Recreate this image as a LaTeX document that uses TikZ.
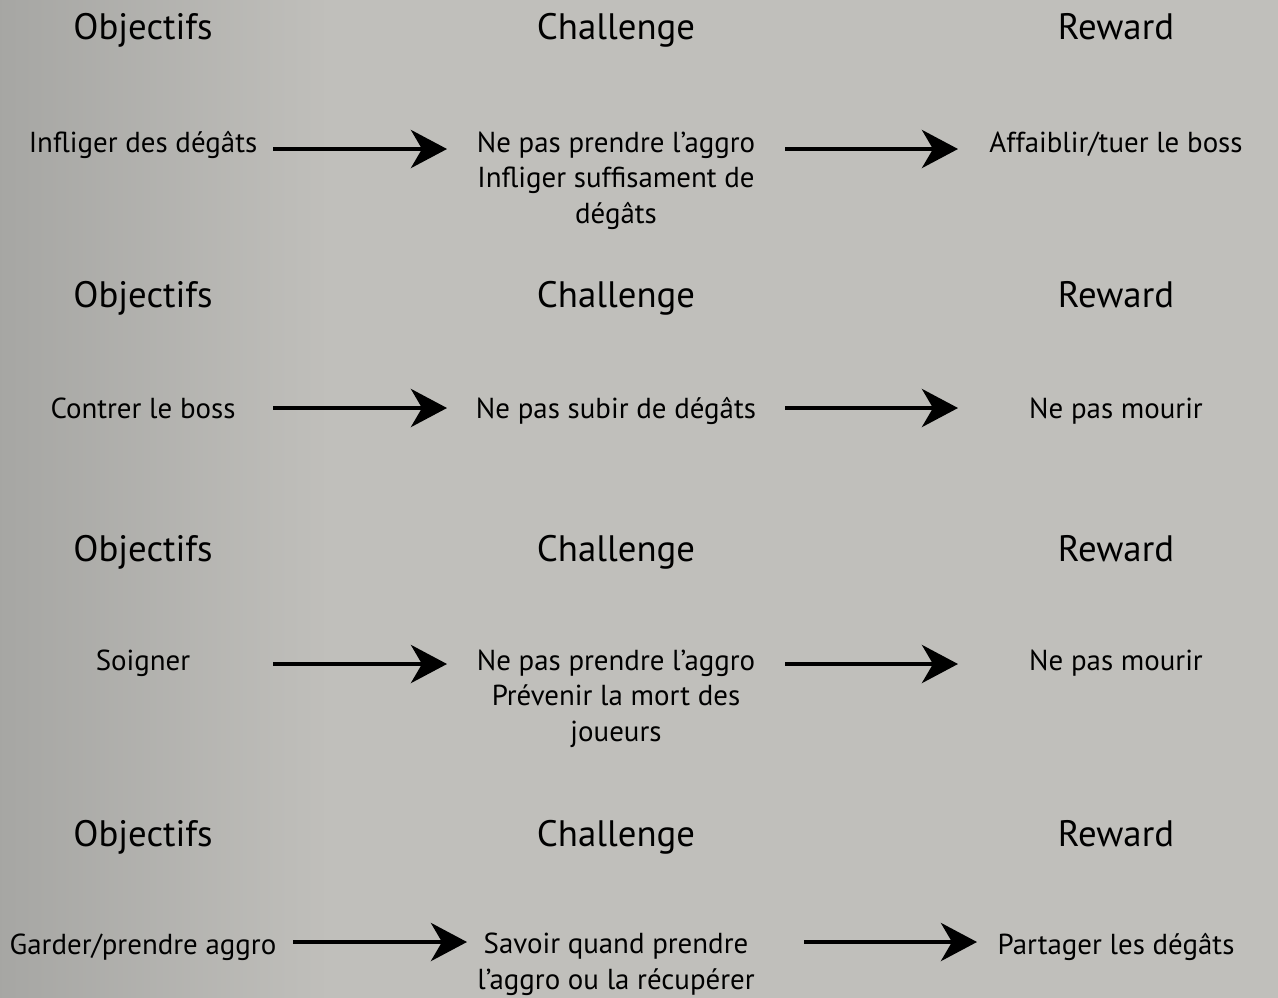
\documentclass[tikz,border=0pt]{standalone}
\usepackage{fontspec}
\setmainfont{PT Sans}
\usetikzlibrary{arrows.meta}
\definecolor{bgR}{RGB}{192,191,187}
\definecolor{bgL}{RGB}{166,166,163}
\begin{document}
\begin{tikzpicture}[x=1pt,y=-1pt,
  hdr/.style={anchor=base,font=\fontsize{36.8}{40}\selectfont,text=black,inner sep=0pt},
  item/.style={anchor=base,font=\fontsize{28.9}{35.5}\selectfont,align=center,text=black,inner sep=0pt},
  arr/.style={line width=4.5pt,-{Stealth[length=36pt,width=38pt,inset=11pt]}}]
\useasboundingbox (0,0) rectangle (1278,997);
\fill[bgR] (-5,-5) rectangle (1283,1002);
\shade[left color=bgL,right color=bgR] (-5,-5) rectangle (330,1002);
% Row 1
\node[hdr] (h1a) at (143,39) {Objectifs};
\node[hdr] (h1b) at (616,39) {Challenge};
\node[hdr] (h1c) at (1116,39) {Reward};
\node[item] (o1) at (143,152) {Infliger des dégâts};
\node[item] (c1) at (616,223) {Ne pas prendre l’aggro\\Infliger suffisament de\\dégâts};
\node[item] (r1) at (1116,152) {Affaiblir/tuer le boss};
\coordinate (a1s) at (273,149); \coordinate (a1e) at (447,149);
\coordinate (b1s) at (785,149); \coordinate (b1e) at (958,149);
\draw[arr] (a1s) -- (a1e);
\draw[arr] (b1s) -- (b1e);
% Row 2
\node[hdr] (h2a) at (143,307) {Objectifs};
\node[hdr] (h2b) at (616,307) {Challenge};
\node[hdr] (h2c) at (1116,307) {Reward};
\node[item] (o2) at (143,418) {Contrer le boss};
\node[item] (c2) at (616,418) {Ne pas subir de dégâts};
\node[item] (r2) at (1116,418) {Ne pas mourir};
\coordinate (a2s) at (273,408); \coordinate (a2e) at (447,408);
\coordinate (b2s) at (785,408); \coordinate (b2e) at (958,408);
\draw[arr] (a2s) -- (a2e);
\draw[arr] (b2s) -- (b2e);
% Row 3
\node[hdr] (h3a) at (143,561) {Objectifs};
\node[hdr] (h3b) at (616,561) {Challenge};
\node[hdr] (h3c) at (1116,561) {Reward};
\node[item] (o3) at (143,670) {Soigner};
\node[item] (c3) at (616,741) {Ne pas prendre l’aggro\\Prévenir la mort des\\joueurs};
\node[item] (r3) at (1116,670) {Ne pas mourir};
\coordinate (a3s) at (273,664); \coordinate (a3e) at (447,664);
\coordinate (b3s) at (785,664); \coordinate (b3e) at (958,664);
\draw[arr] (a3s) -- (a3e);
\draw[arr] (b3s) -- (b3e);
% Row 4
\node[hdr] (h4a) at (143,846) {Objectifs};
\node[hdr] (h4b) at (616,846) {Challenge};
\node[hdr] (h4c) at (1116,846) {Reward};
\node[item] (o4) at (143,954) {Garder/prendre aggro};
\node[item] (c4) at (616,989) {Savoir quand prendre\\l’aggro ou la récupérer};
\node[item] (r4) at (1116,954) {Partager les dégâts};
\coordinate (a4s) at (293,942); \coordinate (a4e) at (467,942);
\coordinate (b4s) at (804,942); \coordinate (b4e) at (977,942);
\draw[arr] (a4s) -- (a4e);
\draw[arr] (b4s) -- (b4e);
\end{tikzpicture}
\end{document}
